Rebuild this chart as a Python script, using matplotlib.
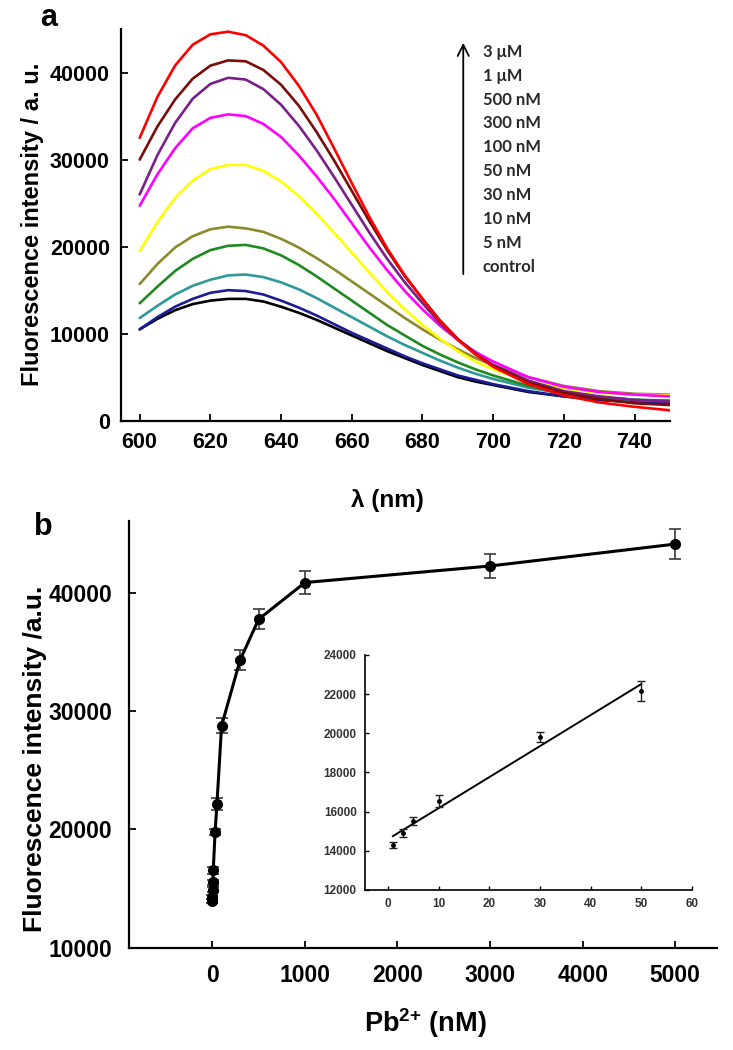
import numpy as np
import matplotlib
matplotlib.use("Agg")
import matplotlib.pyplot as plt

plt.rcParams['font.family'] = ['Liberation Sans', 'DejaVu Sans']
plt.rcParams['mathtext.fontset'] = 'custom'
plt.rcParams['mathtext.rm'] = 'Liberation Sans'
plt.rcParams['mathtext.bf'] = 'Liberation Sans:bold'

# ---- panel a: emission spectra ----
wavelength = [600, 605, 610, 615, 620, 625, 630, 635, 640, 645, 650, 655, 660,
              665, 670, 675, 680, 685, 690, 695, 700, 710, 720, 730, 740, 750]

spec_control = [10500, 11700, 12700, 13400, 13800, 14000, 14000, 13700, 13100, 12400, 11600, 10700, 9800,
                8900, 8000, 7200, 6400, 5700, 5000, 4500, 4100, 3300, 2800, 2400, 2100, 2000]
spec_5nM = [10500, 11900, 13100, 14000, 14700, 15000, 14900, 14500, 13800, 13000, 12100, 11100, 10100,
            9200, 8300, 7400, 6600, 5900, 5200, 4700, 4200, 3400, 2800, 2400, 2200, 2100]
spec_10nM = [11800, 13200, 14500, 15500, 16200, 16700, 16800, 16500, 15900, 15100, 14100, 13000, 11900,
             10800, 9700, 8700, 7800, 6900, 6100, 5400, 4800, 3800, 3100, 2700, 2400, 2300]
spec_30nM = [13500, 15400, 17200, 18600, 19600, 20100, 20200, 19800, 19000, 17900, 16600, 15200, 13800,
             12400, 11000, 9800, 8600, 7600, 6700, 5900, 5200, 4000, 3200, 2700, 2400, 2300]
spec_50nM = [15700, 18000, 19900, 21200, 22000, 22300, 22100, 21700, 20900, 19900, 18700, 17400, 16000,
             14600, 13200, 11800, 10500, 9300, 8200, 7200, 6400, 5000, 4000, 3400, 3100, 3000]
spec_100nM = [19500, 22800, 25600, 27600, 28900, 29400, 29400, 28700, 27500, 25800, 23800, 21600, 19300,
              17000, 14800, 12800, 11000, 9400, 8000, 6800, 5900, 4500, 3700, 3200, 3000, 2900]
spec_300nM = [24700, 28300, 31300, 33600, 34800, 35200, 35000, 34100, 32600, 30500, 28100, 25500, 22700,
              19900, 17300, 14900, 12800, 10900, 9300, 7900, 6800, 5000, 3900, 3300, 3000, 2800]
spec_500nM = [26000, 30500, 34200, 37000, 38700, 39400, 39200, 38100, 36300, 33900, 31100, 28000, 24800,
              21600, 18600, 15900, 13500, 11200, 9300, 7700, 6400, 4600, 3400, 2800, 2400, 2200]
spec_1uM = [30000, 33800, 36900, 39300, 40800, 41400, 41300, 40300, 38600, 36200, 33200, 29900, 26400,
            22900, 19600, 16600, 14000, 11500, 9400, 7700, 6300, 4400, 3200, 2500, 2000, 1800]
spec_3uM = [32500, 37200, 40800, 43200, 44400, 44700, 44300, 43100, 41200, 38500, 35200, 31300, 27300,
            23400, 19800, 16700, 14000, 11400, 9300, 7600, 6200, 4200, 2900, 2100, 1600, 1200]

spectra = [spec_control, spec_5nM, spec_10nM, spec_30nM, spec_50nM,
           spec_100nM, spec_300nM, spec_500nM, spec_1uM, spec_3uM]
spec_labels = ['control', '5 nM', '10 nM', '30 nM', '50 nM',
               '100 nM', '300 nM', '500 nM', '1 \u03bcM', '3 \u03bcM']
spec_colors = ['#000000', '#1c1c96', '#2e9999', '#1f8a1f', '#8c8a2c',
               '#ffff00', '#ff00ff', '#7a1f8a', '#7a0c0c', '#ff0000']

# ---- panel b: titration curve ----
pb_conc = [0, 1, 3, 5, 10, 30, 50, 100, 300, 500, 1000, 3000, 5000]
pb_int = [13950, 14275, 14890, 15540, 16560, 19800, 22170, 28750, 34300, 37750, 40850, 42250, 44100]
pb_err = [200, 150, 200, 200, 300, 250, 500, 650, 850, 850, 1000, 1000, 1250]

W, H = 733, 1050
fig = plt.figure(figsize=(W / 100, H / 100), dpi=100)

# panel a
ax1 = fig.add_axes([0.165, 0.5993, 0.749, 0.3730])
for spec, col in zip(spectra, spec_colors):
    ax1.plot(wavelength, spec, color=col, lw=1.9, solid_capstyle='round', solid_joinstyle='round')
ax1.set_xlim(594.7, 750)
ax1.set_ylim(0, 45000)
ax1.set_xticks(range(600, 741, 20))
ax1.set_yticks(range(0, 40001, 10000))
ax1.tick_params(direction='in', length=5, width=1.3, labelsize=15.5, pad=8)
fig.text(387 / W, 1 - 500 / H, '\u03bb (nm)', fontsize=17.5, fontweight='bold',
         ha='center', va='center')
fig.text(33 / W, 1 - 224 / H, 'Fluorescence intensity / a. u.', fontsize=17, fontweight='bold',
         rotation=90, ha='center', va='center')

# arrow + concentration labels
ax1.annotate('', xy=(0.6235, 0.972), xytext=(0.6235, 0.367), xycoords='axes fraction',
             arrowprops=dict(arrowstyle='->', lw=1.3, color='black', mutation_scale=20))
y0, dy = 0.393, 0.061
for i, lab in enumerate(spec_labels):
    ax1.text(0.659, y0 + i * dy, lab, transform=ax1.transAxes, fontsize=12,
             family=['Lato', 'DejaVu Sans'], fontweight='bold', color='#2a2a2a', va='center')

# panel b
ax2 = fig.add_axes([0.176, 0.0974, 0.802, 0.4064])
ax2.errorbar(pb_conc, pb_int, yerr=pb_err, color='black', lw=2.2, marker='o', ms=7,
             ecolor='#3a3a3a', elinewidth=1.2, capsize=4, capthick=1.2)
ax2.set_xlim(-900, 5450)
ax2.set_ylim(10000, 46050)
ax2.set_xticks(range(0, 5001, 1000))
ax2.set_yticks(range(10000, 40001, 10000))
ax2.tick_params(direction='in', length=5, width=1.3, labelsize=16.5, pad=12)
fig.text(425 / W, 1 - 1023 / H, r'Pb$^{\mathbf{2{+}}}$ (nM)', fontsize=19.5, fontweight='bold',
         ha='center', va='center')
fig.text(35 / W, 1 - 759 / H, 'Fluorescence intensity /a.u.', fontsize=19, fontweight='bold',
         rotation=90, ha='center', va='center')

# inset: linear range
lin_x = np.array(pb_conc[1:7])
lin_y = np.array(pb_int[1:7])
lin_e = np.array(pb_err[1:7])
k, b = np.polyfit(lin_x, lin_y, 1)
fit_x = np.array([lin_x.min(), lin_x.max()])

ax3 = fig.add_axes([0.498, 0.1524, 0.446, 0.2238])
ax3.plot(fit_x, k * fit_x + b, color='black', lw=1.4)
ax3.errorbar(lin_x, lin_y, yerr=lin_e, fmt='o', color='black', ms=2.5,
             ecolor='#222222', elinewidth=1, capsize=3, capthick=1)
ax3.set_xlim(-4.5, 60)
ax3.set_ylim(12000, 24000)
ax3.set_xticks(range(0, 61, 10))
ax3.set_yticks(range(12000, 24001, 2000))
ax3.tick_params(direction='in', length=3, width=1, labelsize=8.5, pad=6)
for t in ax3.get_xticklabels() + ax3.get_yticklabels():
    t.set_fontweight('bold')
    t.set_color('#333333')

for ax in (ax1, ax2, ax3):
    ax.spines['top'].set_visible(False)
    ax.spines['right'].set_visible(False)
    ax.spines['left'].set_linewidth(1.6 if ax is not ax3 else 1.2)
    ax.spines['bottom'].set_linewidth(1.6 if ax is not ax3 else 1.2)
    if ax is not ax3:
        for t in ax.get_xticklabels() + ax.get_yticklabels():
            t.set_fontweight('bold')

fig.text(0.055, 0.983, 'a', fontsize=22, fontweight='bold', va='center')
fig.text(0.047, 0.498, 'b', fontsize=22, fontweight='bold', va='center')

fig.savefig('out.png', dpi=100)
